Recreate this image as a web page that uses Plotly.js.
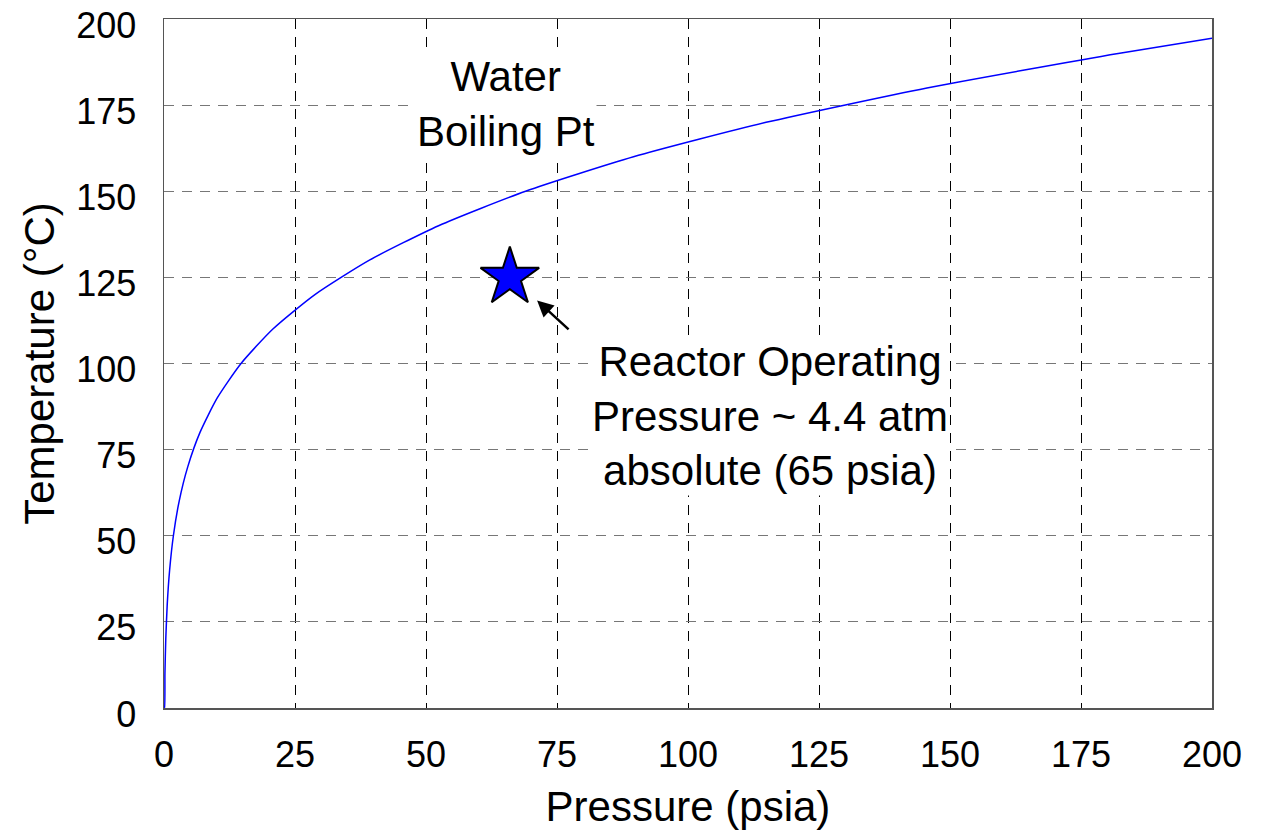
<!DOCTYPE html>
<html><head><meta charset="utf-8">
<script src="https://cdn.plot.ly/plotly-3.0.1.min.js"></script>
<style>html,body{margin:0;padding:0;background:#fff}</style>
</head><body>
<div id="chart" style="width:1266px;height:831px"></div>
<script>
// Water boiling point curve (psia vs °C)
const pressurePsia = [0, 0.0886, 0.178, 0.339, 0.615, 1.07, 1.79, 2.89, 4.53, 6.87, 10.16, 14.70, 20.78, 28.8, 39.2, 52.4, 69.0, 89.6, 114.9, 145.6, 182.1, 200];
const boilTempC    = [0, 0, 10, 20, 30, 40, 50, 60, 70, 80, 90, 100, 110, 120, 130, 140, 150, 160, 170, 180, 190, 194.4];
const reactorP = [66];
const reactorT = [125];
const xTicks = [0, 25, 50, 75, 100, 125, 150, 175, 200];
const yTicks = [0, 25, 50, 75, 100, 125, 150, 175, 200];

const font = "Liberation Sans, Arial, sans-serif";
const traces = [
  {x: pressurePsia, y: boilTempC, mode: 'lines', line: {color: '#0000ff', width: 1.5, shape: 'spline', smoothing: 0.6}, hoverinfo: 'skip'},
  {x: reactorP, y: reactorT, mode: 'markers', marker: {symbol: 'star', size: 44, color: '#0000ff', line: {color: '#000', width: 2}}}
];
const layout = {
  width: 1266, height: 831,
  margin: {l: 164, r: 54, t: 19, b: 123},
  showlegend: false,
  paper_bgcolor: '#fff', plot_bgcolor: '#fff',
  font: {family: font, color: '#000', size: 36},
  xaxis: {
    range: [0, 200], tickvals: xTicks, ticktext: xTicks.map(String),
    showgrid: true, gridcolor: '#000', griddash: '10px,8px', gridwidth: 1,
    zeroline: false, showline: true, linecolor: '#555', linewidth: 1.5, mirror: true,
    ticks: '', ticklabelstandoff: 14, ticklabeloverflow: 'allow', tickfont: {size: 36, family: font},
    title: {text: 'Pressure (psia)', font: {size: 42, family: font}, standoff: 18}
  },
  yaxis: {
    range: [0, 200], tickvals: yTicks, ticktext: yTicks.map(String),
    showgrid: true, gridcolor: '#777', griddash: '10px,8px', gridwidth: 1,
    zeroline: false, showline: true, linecolor: '#555', linewidth: 1.5, mirror: true,
    ticks: '', ticklabelstandoff: 19, ticklabelshift: 6, ticklabeloverflow: 'allow', tickfont: {size: 36, family: font},
    title: {text: 'Temperature (°C)', font: {size: 42, family: font}, standoff: 8}
  },
  annotations: [
    {x: 65.2, y: 175.2, xref: 'x', yref: 'y', text: 'Water<br>Boiling Pt', showarrow: false,
     font: {size: 42, family: font, color: '#000'}, align: 'center', bgcolor: '#fff'},
    {x: 115.6, y: 84.7, xref: 'x', yref: 'y', text: 'Reactor Operating<br>Pressure ~ 4.4 atm<br>absolute (65 psia)', showarrow: false,
     font: {size: 42, family: font, color: '#000'}, align: 'center', bgcolor: '#fff'},
    {x: 71.2, y: 118.3, xref: 'x', yref: 'y', ax: 77.5, ay: 109.5, axref: 'x', ayref: 'y', text: '',
     showarrow: true, arrowhead: 2, arrowsize: 1.3, arrowwidth: 2.5, arrowcolor: '#000'}
  ]
};
Plotly.newPlot('chart', traces, layout, {displayModeBar: false, staticPlot: true});
</script>
</body></html>
